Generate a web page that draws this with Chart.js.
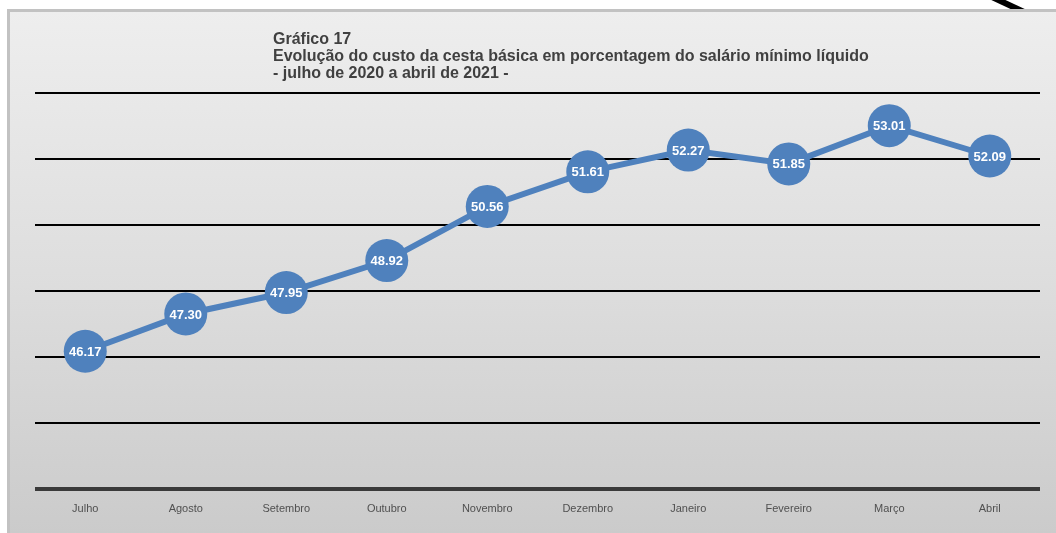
<!DOCTYPE html>
<html>
<head>
<meta charset="utf-8">
<script src="https://cdn.jsdelivr.net/npm/chart.js@4"></script>
<style>
html,body{margin:0;padding:0;background:#fff;}
#wrap{width:1056px;height:533px;position:relative;}
</style>
</head>
<body>
<div id="wrap"><canvas id="c" width="1056" height="533"></canvas></div>
<script>
const categories = ["Julho","Agosto","Setembro","Outubro","Novembro","Dezembro","Janeiro","Fevereiro","Março","Abril"];
const values = [46.17, 47.30, 47.95, 48.92, 50.56, 51.61, 52.27, 51.85, 53.01, 52.09];
const titleLines = ["Gráfico 17","Evolução do custo da cesta básica em porcentagem do salário mínimo líquido","- julho de 2020 a abril de 2021 -"];
const yMin = 42, yMax = 54, yStep = 2;

const bgPlugin = {
  id: 'bg',
  beforeDraw(chart) {
    const ctx = chart.ctx;
    ctx.save();
    ctx.fillStyle = '#ffffff';
    ctx.fillRect(0, 0, chart.width, chart.height);
    ctx.strokeStyle = '#000';
    ctx.lineWidth = 6;
    ctx.beginPath();
    ctx.moveTo(992, -3);
    ctx.lineTo(1024, 12);
    ctx.stroke();
    const g = ctx.createLinearGradient(0, 10, 0, 533);
    g.addColorStop(0, '#eeeeee');
    g.addColorStop(0.5, '#dedede');
    g.addColorStop(1, '#cbcbcb');
    ctx.fillStyle = g;
    ctx.fillRect(8, 10, chart.width, chart.height);
    ctx.strokeStyle = '#c2c2c2';
    ctx.lineWidth = 3;
    ctx.beginPath();
    ctx.moveTo(8.5, chart.height + 5);
    ctx.lineTo(8.5, 10.5);
    ctx.lineTo(chart.width + 5, 10.5);
    ctx.stroke();
    ctx.restore();
  }
};

const textPlugin = {
  id: 'texts',
  afterDraw(chart) {
    const ctx = chart.ctx;
    ctx.save();
    ctx.fillStyle = '#404040';
    ctx.font = 'bold 16px "Liberation Sans", Arial, sans-serif';
    ctx.textBaseline = 'alphabetic';
    ctx.textAlign = 'left';
    titleLines.forEach((t, i) => ctx.fillText(t, 273, 44 + i * 17));
    const meta = chart.getDatasetMeta(0);
    ctx.fillStyle = '#ffffff';
    ctx.font = 'bold 13px "Liberation Sans", Arial, sans-serif';
    ctx.textAlign = 'center';
    ctx.textBaseline = 'middle';
    meta.data.forEach((pt, i) => {
      ctx.fillText(values[i].toFixed(2), pt.x, pt.y + 1);
    });
    ctx.restore();
  }
};

new Chart(document.getElementById('c'), {
  type: 'line',
  data: {
    labels: categories,
    datasets: [{
      data: values,
      borderColor: '#4f81bd',
      borderWidth: 6,
      backgroundColor: '#4f81bd',
      pointBackgroundColor: '#4f81bd',
      pointBorderWidth: 0,
      pointRadius: 21.5,
      pointHoverRadius: 21.5,
      tension: 0,
      fill: false,
      clip: false
    }]
  },
  options: {
    responsive: false,
    animation: false,
    events: [],
    layout: { autoPadding: false, padding: { left: 35, right: 16, top: 93, bottom: 11 } },
    plugins: { legend: { display: false }, tooltip: { enabled: false }, title: { display: false } },
    scales: {
      x: {
        offset: true,
        afterFit: (s) => { s.paddingLeft = 0; s.paddingRight = 0; },
        grid: { display: false },
        border: { display: false },
        ticks: { color: '#505050', font: { family: '"Liberation Sans", Arial, sans-serif', size: 11 }, padding: 6, maxRotation: 0, autoSkip: false }
      },
      y: {
        min: yMin, max: yMax,
        border: { display: false },
        grid: {
          drawTicks: false,
          color: (c) => c.tick && c.tick.value === yMin ? '#3a3a3a' : '#000000',
          lineWidth: (c) => c.tick && c.tick.value === yMin ? 4 : 2
        },
        ticks: { display: false, stepSize: yStep }
      }
    }
  },
  plugins: [bgPlugin, textPlugin]
});
</script>
</body>
</html>
